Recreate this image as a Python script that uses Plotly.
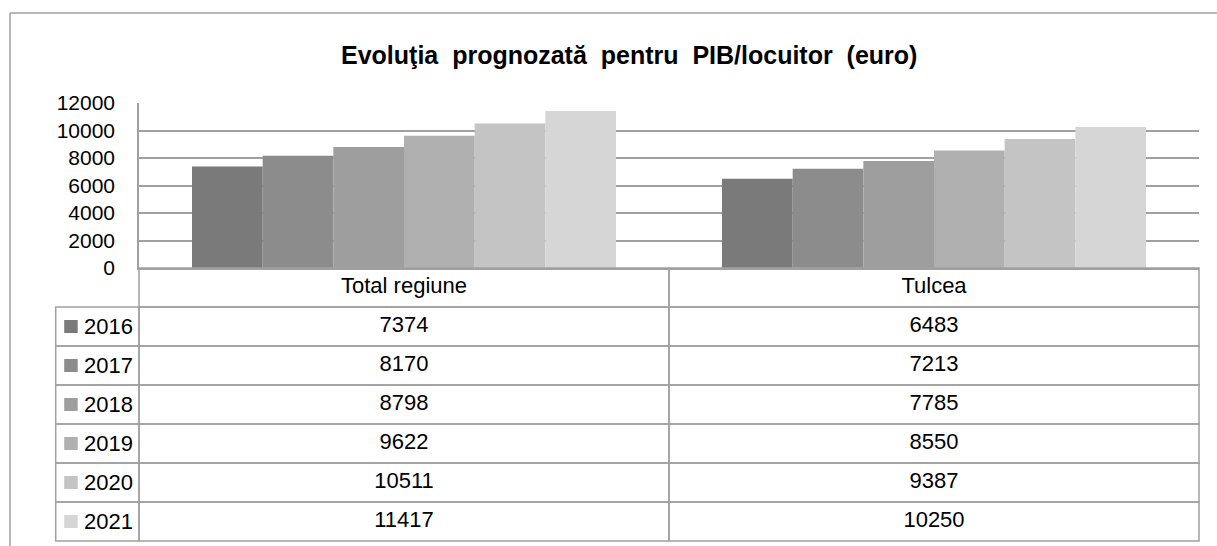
import plotly.graph_objects as go

# ---- data ----
categories = ["Total regiune", "Tulcea"]
years = ["2016", "2017", "2018", "2019", "2020", "2021"]
values = {
    "2016": [7374, 6483],
    "2017": [8170, 7213],
    "2018": [8798, 7785],
    "2019": [9622, 8550],
    "2020": [10511, 9387],
    "2021": [11417, 10250],
}
y_ticks = [0, 2000, 4000, 6000, 8000, 10000, 12000]
title_text = "Evoluţia\u00a0 prognozată\u00a0 pentru\u00a0 PIB/locuitor\u00a0 (euro)"

# ---- styles / layout (pixels) ----
colors = ["#7a7a7a", "#8c8c8c", "#9e9e9e", "#b0b0b0", "#c4c4c4", "#d6d6d6"]
W, H = 1217, 546
GRID = "#a0a0a0"
SANS = "Liberation Sans, Arial, sans-serif"
PLOT_L, PLOT_R, PLOT_T, PLOT_B = 139, 1199, 103, 268
LEG_L = 55.7
TABLE_B = 541
PAD = 3  # px padding so border lines are not clipped


def px_x(x):
    return x / W


def px_y(y):
    return 1 - y / H


xpos = list(range(len(categories)))
n_rows = len(years) + 1
x_left = -0.5
x_right = len(categories) - 0.5

fig = go.Figure()

for i, yr in enumerate(years):
    fig.add_trace(go.Bar(
        x=xpos, y=values[yr], name=yr,
        marker=dict(color=colors[i], line=dict(width=0)),
        showlegend=False, hoverinfo="skip",
    ))

# table text (category columns on x3/y2)
fig.add_trace(go.Scatter(
    x=xpos, y=[0.5] * len(categories), text=categories, mode="text",
    textfont=dict(family=SANS, size=22, color="black"),
    xaxis="x3", yaxis="y2", showlegend=False, hoverinfo="skip",
))
for r, yr in enumerate(years, start=1):
    fig.add_trace(go.Scatter(
        x=xpos, y=[r + 0.5] * len(categories), text=[str(v) for v in values[yr]],
        mode="text", textfont=dict(family=SANS, size=22, color="black"),
        xaxis="x3", yaxis="y2", showlegend=False, hoverinfo="skip",
    ))
# legend-column anchor trace (x2/y2)
fig.add_trace(go.Scatter(
    x=[0.5] * len(years), y=[r + 0.5 for r in range(1, n_rows)], mode="none",
    xaxis="x2", yaxis="y2", showlegend=False, hoverinfo="skip",
))

shapes = []
annotations = []
line = dict(color=GRID, width=1.5)
for r in range(n_rows):
    for c in xpos:
        shapes.append(dict(type="rect", xref="x3", yref="y2",
                           x0=c - 0.5, x1=c + 0.5, y0=r, y1=r + 1,
                           line=line, fillcolor="rgba(0,0,0,0)", layer="above"))
for r, yr in enumerate(years, start=1):
    shapes.append(dict(type="rect", xref="x2", yref="y2",
                       x0=0, x1=1, y0=r, y1=r + 1,
                       line=line, fillcolor="rgba(0,0,0,0)", layer="above"))
    shapes.append(dict(type="rect", xref="x2", yref="y2", xsizemode="pixel",
                       ysizemode="pixel", xanchor=0, yanchor=r + 0.5,
                       x0=8.5, x1=22, y0=-6.5, y1=6.5,
                       line=dict(width=0), fillcolor=colors[r - 1], layer="above"))
    annotations.append(dict(xref="x2", yref="y2", x=1, y=r + 0.5,
                            xanchor="right", yanchor="middle", xshift=-4,
                            text=yr, showarrow=False,
                            font=dict(family=SANS, size=22, color="black")))

# outer frame
shapes.append(dict(type="line", xref="paper", yref="paper",
                   x0=px_x(10), x1=px_x(10), y0=0, y1=px_y(13), line=line))
shapes.append(dict(type="line", xref="paper", yref="paper",
                   x0=px_x(10), x1=1, y0=px_y(13), y1=px_y(13), line=line))

annotations.append(dict(xref="paper", yref="paper", x=px_x(629), y=px_y(55),
                        xanchor="center", yanchor="middle", text="<b>" + title_text + "</b>",
                        showarrow=False,
                        font=dict(family=SANS, size=25, color="black")))

# padded axes for table
u_main = (x_right - x_left) / (PLOT_R - PLOT_L)
u_leg = 1 / (PLOT_L - LEG_L)
u_row = n_rows / (TABLE_B - PLOT_B)

fig.update_layout(
    width=W, height=H,
    margin=dict(l=0, r=0, t=0, b=0),
    paper_bgcolor="white", plot_bgcolor="rgba(0,0,0,0)",
    barmode="group", bargap=0.2, bargroupgap=0,
    xaxis=dict(domain=[px_x(PLOT_L), px_x(PLOT_R)], range=[x_left, x_right],
               showticklabels=False, showgrid=False, zeroline=False,
               showline=True, linecolor=GRID, linewidth=1.5, ticks="",
               fixedrange=True, automargin=False),
    yaxis=dict(domain=[px_y(PLOT_B), px_y(PLOT_T)], range=[0, 12000],
               tickvals=y_ticks, ticktext=[str(t) for t in y_ticks],
               showgrid=True, gridcolor=GRID, gridwidth=1.5,
               zeroline=False, showline=True, linecolor=GRID, linewidth=1.5,
               ticks="", ticklabelstandoff=18,
               tickfont=dict(family=SANS, size=21, color="black"),
               automargin=False, fixedrange=True),
    xaxis2=dict(domain=[px_x(LEG_L - PAD), px_x(PLOT_L + PAD)],
                range=[-PAD * u_leg, 1 + PAD * u_leg], anchor="y2",
                visible=False, fixedrange=True, automargin=False),
    xaxis3=dict(domain=[px_x(PLOT_L - PAD), px_x(PLOT_R + PAD)],
                range=[x_left - PAD * u_main, x_right + PAD * u_main], anchor="y2",
                visible=False, fixedrange=True, automargin=False),
    yaxis2=dict(domain=[px_y(TABLE_B + PAD), px_y(PLOT_B - PAD)],
                range=[n_rows + PAD * u_row, -PAD * u_row],
                anchor="x3", visible=False, fixedrange=True, automargin=False),
    shapes=shapes, annotations=annotations,
)

fig.write_html("out.html", config={"displayModeBar": False},
               post_script="document.body.style.margin='0';")
